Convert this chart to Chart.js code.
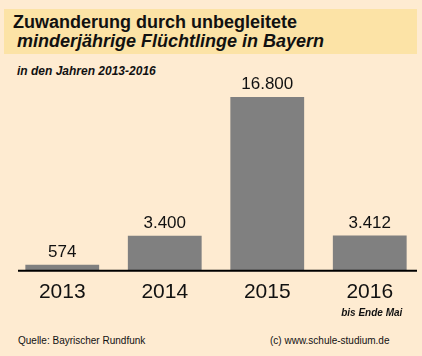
<!DOCTYPE html>
<html><head><meta charset="utf-8">
<script src="https://cdn.jsdelivr.net/npm/chart.js@4"></script>
<style>
html,body{margin:0;padding:0;}
body{width:422px;height:356px;background:#FEEBD1;position:relative;overflow:hidden;font-family:"Liberation Sans",Arial,sans-serif;color:#111;}
#box{position:absolute;left:4px;top:9px;width:413px;height:45px;background:#FCE3A6;}
.t{position:absolute;white-space:nowrap;}
#c{position:absolute;left:0;top:0;}
</style></head>
<body>
<div id="box"></div>
<div class="t" style="left:13px;top:12.5px;font-size:18px;line-height:18px;font-weight:bold;">Zuwanderung durch unbegleitete</div>
<div class="t" style="left:17px;top:31.5px;font-size:18px;line-height:18px;font-weight:bold;font-style:italic;">minderjährige Flüchtlinge in Bayern</div>
<div class="t" style="left:17px;top:65px;font-size:12px;line-height:12px;font-weight:bold;font-style:italic;">in den Jahren 2013-2016</div>
<div class="t" style="left:18px;top:336px;font-size:10px;line-height:10px;">Quelle: Bayrischer Rundfunk</div>
<div class="t" style="left:270px;top:336px;font-size:10px;line-height:10px;">(c) www.schule-studium.de</div>
<canvas id="c" width="422" height="356"></canvas>
<script>
const categories = ['2013', '2014', '2015', '2016'];
const values = [574, 3400, 16800, 3412];
const notes = ['', '', '', 'bis Ende Mai'];
const yMax = 20000;

function fmt(v){ return String(v).replace(/\B(?=(\d{3})+(?!\d))/g, '.'); }

const overlay = {
  id: 'overlay',
  afterDatasetsDraw(chart){
    const ctx = chart.ctx;
    const meta = chart.getDatasetMeta(0);
    const xs = chart.scales.x, ys = chart.scales.y;
    const area = chart.chartArea;
    ctx.save();
    const y0 = ys.getPixelForValue(0);
    ctx.strokeStyle = '#000';
    ctx.lineWidth = 2;
    ctx.beginPath();
    ctx.moveTo(area.left + 7, y0);
    ctx.lineTo(area.right - 4, y0);
    ctx.stroke();
    ctx.fillStyle = '#111';
    ctx.font = '17px "Liberation Sans", Arial, sans-serif';
    ctx.textAlign = 'center';
    ctx.textBaseline = 'alphabetic';
    meta.data.forEach((bar, i) => {
      ctx.fillText(fmt(values[i]), bar.x, bar.y - 8);
    });
    ctx.font = 'italic bold 10px "Liberation Sans", Arial, sans-serif';
    ctx.textBaseline = 'middle';
    notes.forEach((n, i) => {
      if (n) ctx.fillText(n, xs.getPixelForValue(i) + 2, y0 + 42);
    });
    ctx.restore();
  }
};

new Chart(document.getElementById('c'), {
  type: 'bar',
  data: {
    labels: categories,
    datasets: [{
      data: values,
      backgroundColor: '#808080',
      borderWidth: 0,
      categoryPercentage: 1.0,
      barPercentage: 0.72
    }]
  },
  options: {
    responsive: false,
    animation: false,
    layout: { padding: { top: 64, left: 11, right: 1, bottom: 42 } },
    plugins: { legend: { display: false }, tooltip: { enabled: false }, title: { display: false } },
    scales: {
      x: {
        grid: { display: false, drawTicks: false },
        border: { display: false },
        ticks: {
          padding: 9,
          color: '#111',
          font: { family: '"Liberation Sans", Arial, sans-serif', size: 21, lineHeight: 1.2 }
        }
      },
      y: {
        display: false,
        min: 0,
        max: yMax
      }
    }
  },
  plugins: [overlay]
});
</script>
</body></html>
